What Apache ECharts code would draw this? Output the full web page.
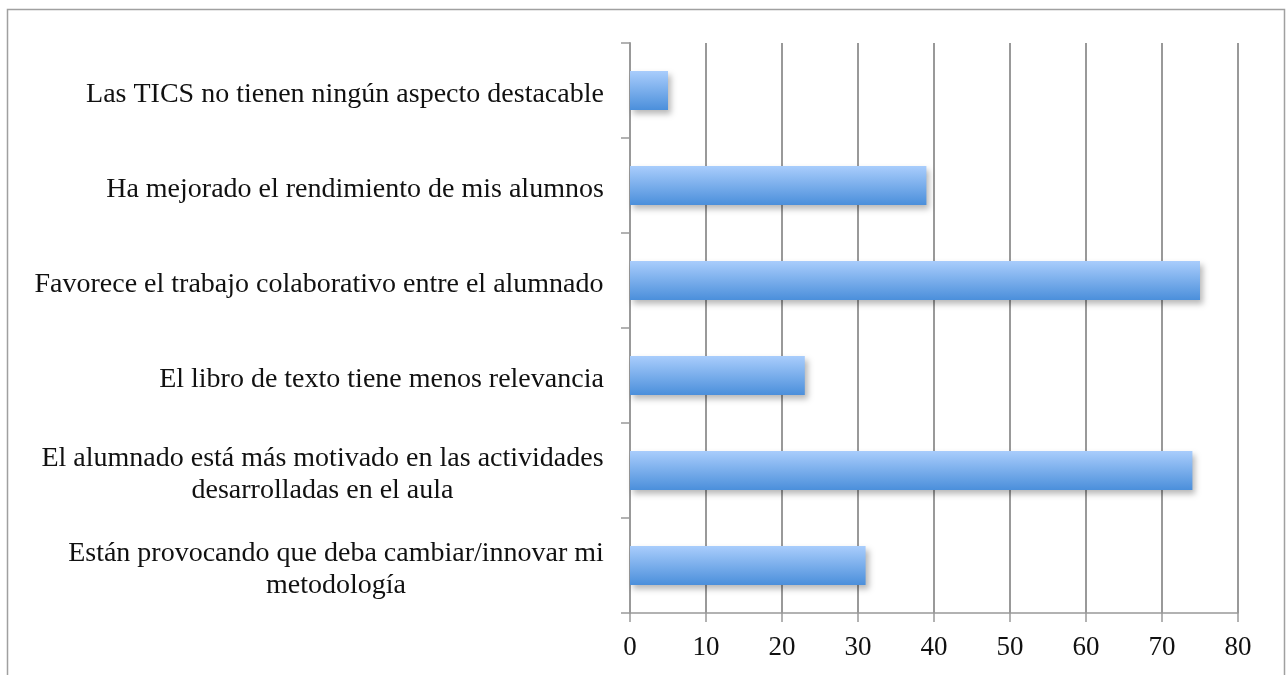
<!DOCTYPE html>
<html>
<head>
<meta charset="utf-8">
<script src="https://cdn.jsdelivr.net/npm/echarts@6/dist/echarts.min.js"></script>
<style>
  html, body { margin: 0; padding: 0; background: #fff; }
  #chart { width: 1287px; height: 675px; }
</style>
</head>
<body>
<div id="chart"></div>
<script>
// categories, bottom to top (as the category axis draws them)
var categories = [
  'Están provocando que deba cambiar/innovar mi\nmetodología',
  'El alumnado está más motivado en las actividades\ndesarrolladas en el aula',
  'El libro de texto tiene menos relevancia',
  'Favorece el trabajo colaborativo entre el alumnado',
  'Ha mejorado el rendimiento de mis alumnos',
  'Las TICS no tienen ningún aspecto destacable'
];
var values = [31, 74, 23, 75, 39, 5];
var xTicks = [0, 10, 20, 30, 40, 50, 60, 70, 80];

var labelSize = 28;

// measure widest line so that wrapped labels are centred line by line
var ctx = document.createElement('canvas').getContext('2d');
ctx.font = labelSize + 'px "Liberation Serif"';
var rich = {};
categories.forEach(function(c, i) {
  var lines = c.split('\n');
  var w = 0;
  lines.forEach(function(l) { w = Math.max(w, ctx.measureText(l).width); });
  rich['r' + i] = { width: Math.ceil(w) + 2, align: 'center', lineHeight: 32,
    fontFamily: 'Liberation Serif', fontSize: labelSize, color: '#111' };
});

var chart = echarts.init(document.getElementById('chart'));

var option = {
  animation: false,
  graphic: [{
    type: 'rect',
    shape: { x: 7.5, y: 9.5, width: 1277, height: 700 },
    style: { fill: 'none', stroke: '#a0a0a0', lineWidth: 1.5 },
    silent: true
  }],
  grid: { left: 630, right: 49, top: 43, bottom: 62 },
  xAxis: {
    type: 'value',
    min: xTicks[0],
    max: xTicks[xTicks.length - 1],
    interval: 10,
    axisLine: { show: true, lineStyle: { color: '#999', width: 1.5 } },
    axisTick: { show: true, length: 9, lineStyle: { color: '#999', width: 1.5 } },
    splitLine: { show: true, lineStyle: { color: '#999', width: 2 } },
    axisLabel: {
      color: '#111',
      fontFamily: 'Liberation Serif',
      fontSize: 27,
      margin: 21
    }
  },
  yAxis: {
    type: 'category',
    data: categories,
    axisLine: { show: true, lineStyle: { color: '#999', width: 2 } },
    axisTick: { show: true, length: 9, lineStyle: { color: '#999', width: 1.5 } },
    axisLabel: {
      margin: 25,
      align: 'right',
      verticalAlign: 'middle',
      padding: [8, 0, 0, 0],
      formatter: function(value, index) {
        return value.split('\n').map(function(l) {
          return '{r' + index + '|' + l + '}';
        }).join('\n');
      },
      rich: rich
    }
  },
  series: [{
    type: 'bar',
    data: values,
    barWidth: 39,
    itemStyle: {
      color: new echarts.graphic.LinearGradient(0, 0, 0, 1, [
        { offset: 0, color: '#a9cdfc' },
        { offset: 1, color: '#4b8fdb' }
      ]),
      shadowColor: 'rgba(0,0,0,0.28)',
      shadowBlur: 6,
      shadowOffsetX: 3,
      shadowOffsetY: 4
    }
  }]
};

chart.setOption(option);
</script>
</body>
</html>
